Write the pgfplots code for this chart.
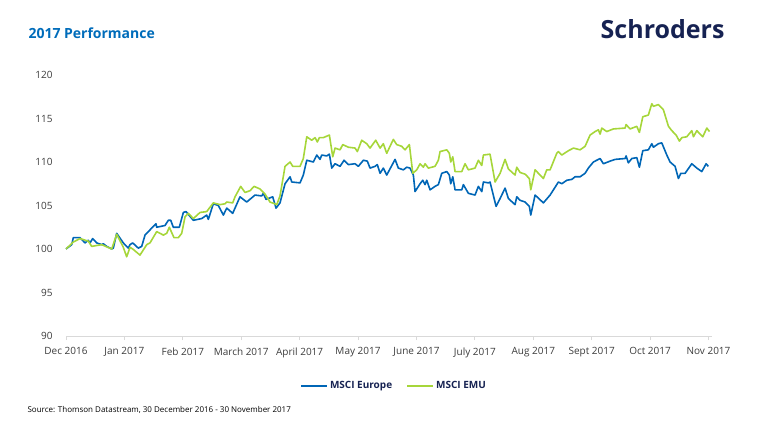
\documentclass[border=0pt]{standalone}
\usepackage{pgfplots}
\pgfplotsset{compat=1.18}
\usepackage{fontspec}
\setmainfont{Open Sans}
\definecolor{eurblue}{RGB}{0,102,182}
\definecolor{emugreen}{RGB}{166,214,58}
\definecolor{titleblue}{RGB}{0,108,186}
\definecolor{navy}{RGB}{22,34,82}
\definecolor{gridgray}{RGB}{217,217,217}
\definecolor{ticktext}{RGB}{60,60,60}

\begin{document}
\begin{tikzpicture}[x=1pt,y=1pt]
\path[use as bounding box] (0,0) rectangle (770,431);

\begin{axis}[
    at={(66pt,95pt)}, anchor=south west,
    scale only axis,
    width=646pt, height=261pt,
    xmin=0, xmax=11.06,
    ymin=90, ymax=120,
    ytick={90,95,...,120},
    xtick={0,...,11},
    xticklabels={Dec 2016,Jan 2017,Feb 2017,March 2017,April 2017,May 2017,June 2017,July 2017,Aug 2017,Sept 2017,Oct 2017,Nov 2017},
    axis lines*=left,
    axis y line=none,
    x axis line style={gridgray, line width=1pt, -},
    ymajorgrids,
    grid style={gridgray, line width=1pt},
    major x tick style={gridgray, line width=1pt},
    tick align=outside,
    major tick length=4pt,
    ytick style={draw=none},
    tick label style={font=\fontsize{10}{12}\selectfont, text=ticktext},
    /pgf/number format/assume math mode=true,
    xticklabel style={yshift=-4pt},
    clip=false,
    legend style={at={(axis description cs:0.5077,-0.1916)}, anchor=center,
      draw=none, fill=none, legend columns=2,
      font=\fontsize{10}{12}\selectfont\bfseries, text=navy,
      /tikz/every even column/.append style={column sep=12pt}},
    legend image code/.code={\draw[#1, line width=2pt] (0pt,0pt) -- (26pt,0pt);},
]
\pgfplotsinvokeforeach{90,95,...,120}{
  \node[anchor=east, font=\fontsize{10}{12}\selectfont, text=ticktext] at (axis cs:0,#1) [xshift=-10pt] {#1};
}
\addplot[eurblue, line width=1.6pt, line join=round] coordinates {
(0,100.0)(0.098,100.5)(0.125,101.3)(0.240,101.3)(0.325,100.7)(0.382,101.0)(0.411,100.7)(0.457,101.2)(0.526,100.7)(0.611,100.5)(0.639,100.6)(0.697,100.3)(0.783,100.0)(0.810,100.1)(0.868,101.8)(0.981,100.7)(1.067,100.1)(1.096,100.5)(1.142,100.7)(1.238,100.1)(1.296,100.3)(1.353,101.6)(1.467,102.4)(1.524,102.8)(1.541,102.9)(1.553,102.5)(1.695,102.7)(1.752,103.3)(1.793,103.3)(1.837,102.5)(1.940,102.5)(2.009,104.2)(2.055,104.3)(2.180,103.3)(2.324,103.5)(2.409,103.9)(2.437,103.4)(2.522,105.2)(2.608,105.0)(2.694,103.9)(2.752,104.7)(2.854,104.1)(2.979,106.0)(3.094,105.4)(3.236,106.2)(3.351,106.1)(3.378,106.4)(3.425,105.7)(3.539,106.0)(3.596,104.7)(3.664,105.3)(3.750,107.5)(3.836,108.3)(3.865,107.7)(4.007,107.6)(4.063,108.5)(4.122,110.2)(4.235,110.0)(4.293,110.8)(4.349,110.3)(4.378,110.8)(4.464,110.7)(4.509,110.9)(4.550,109.3)(4.606,109.8)(4.692,109.5)(4.760,110.2)(4.834,109.7)(4.949,109.8)(5.005,109.5)(5.091,110.2)(5.159,110.1)(5.205,109.3)(5.291,109.5)(5.330,109.7)(5.377,108.7)(5.433,109.3)(5.491,108.5)(5.634,110.3)(5.690,109.3)(5.776,109.1)(5.834,109.4)(5.890,109.3)(5.947,108.5)(5.976,106.6)(6.062,107.5)(6.108,107.9)(6.147,107.4)(6.176,107.9)(6.233,106.8)(6.318,107.2)(6.375,107.4)(6.433,108.7)(6.519,108.9)(6.563,108.5)(6.587,107.5)(6.622,108.3)(6.661,106.8)(6.776,106.8)(6.803,107.4)(6.889,106.4)(7.003,106.2)(7.060,107.2)(7.118,106.6)(7.146,107.7)(7.231,107.6)(7.260,107.7)(7.363,104.9)(7.432,105.8)(7.517,107.0)(7.574,105.8)(7.688,105.1)(7.717,106.0)(7.774,105.6)(7.860,105.4)(7.933,104.9)(7.957,103.9)(8.031,106.2)(8.173,105.3)(8.288,106.2)(8.402,107.4)(8.430,107.7)(8.488,107.5)(8.574,107.9)(8.659,108.0)(8.716,108.3)(8.801,108.3)(8.887,108.7)(8.943,109.3)(9.029,110.0)(9.115,110.3)(9.144,110.4)(9.200,109.8)(9.315,110.1)(9.401,110.3)(9.572,110.4)(9.589,110.7)(9.628,109.9)(9.687,110.4)(9.772,110.5)(9.817,109.4)(9.875,111.3)(9.971,111.4)(10.029,112.1)(10.057,111.7)(10.142,112.1)(10.200,112.2)(10.286,110.8)(10.342,110.0)(10.428,109.5)(10.485,108.1)(10.526,108.7)(10.599,108.7)(10.714,109.8)(10.800,109.3)(10.885,108.9)(10.959,109.8)(10.998,109.5)
};
\addplot[emugreen, line width=1.6pt, line join=round] coordinates {
(0,100.0)(0.125,100.8)(0.240,101.2)(0.382,100.9)(0.440,100.3)(0.611,100.5)(0.783,100.0)(0.868,101.7)(0.981,100.2)(1.039,99.1)(1.096,100.2)(1.142,100.0)(1.267,99.3)(1.382,100.5)(1.438,100.7)(1.553,102.0)(1.667,101.6)(1.724,101.8)(1.769,102.5)(1.849,101.3)(1.923,101.3)(1.981,101.8)(2.038,103.7)(2.095,104.1)(2.180,103.5)(2.295,104.2)(2.409,104.3)(2.522,105.3)(2.637,105.1)(2.723,105.2)(2.752,105.4)(2.854,105.3)(2.894,106.0)(2.991,107.2)(3.065,106.5)(3.151,106.7)(3.219,107.2)(3.322,106.9)(3.408,106.3)(3.493,105.4)(3.608,105.1)(3.664,106.1)(3.750,109.5)(3.836,110.0)(3.882,109.5)(4.007,109.5)(4.063,110.4)(4.122,112.9)(4.207,112.5)(4.264,112.8)(4.303,112.3)(4.338,112.8)(4.406,112.8)(4.509,113.1)(4.567,110.6)(4.606,111.6)(4.692,111.4)(4.738,112.0)(4.834,111.7)(4.949,111.6)(4.988,111.2)(5.063,112.5)(5.149,112.1)(5.205,111.6)(5.303,112.5)(5.377,111.6)(5.433,112.1)(5.491,111.0)(5.604,112.6)(5.662,112.0)(5.748,111.8)(5.805,111.4)(5.879,112.0)(5.937,108.7)(6.005,109.1)(6.062,109.8)(6.118,109.4)(6.147,109.8)(6.204,109.3)(6.318,109.5)(6.375,110.2)(6.404,111.2)(6.519,111.4)(6.563,111.0)(6.587,110.0)(6.622,110.6)(6.661,108.9)(6.776,108.9)(6.832,109.8)(6.889,109.1)(7.003,109.3)(7.060,110.2)(7.118,109.6)(7.146,110.8)(7.260,110.9)(7.346,107.7)(7.432,108.7)(7.517,110.3)(7.574,109.2)(7.688,108.5)(7.717,109.4)(7.774,108.8)(7.860,108.6)(7.933,108.1)(7.957,106.8)(8.031,109.1)(8.173,108.1)(8.231,109.1)(8.288,109.1)(8.402,111.0)(8.430,111.2)(8.488,110.8)(8.602,111.3)(8.688,111.6)(8.801,111.4)(8.887,111.8)(8.973,113.1)(9.058,113.5)(9.115,113.7)(9.144,113.2)(9.173,113.9)(9.258,113.5)(9.372,113.8)(9.572,113.9)(9.589,114.3)(9.658,113.8)(9.772,114.1)(9.817,113.4)(9.875,115.2)(9.971,115.4)(10.029,116.7)(10.057,116.4)(10.142,116.6)(10.228,116.0)(10.314,114.1)(10.372,113.6)(10.445,113.1)(10.502,112.4)(10.543,112.8)(10.628,112.9)(10.714,113.6)(10.742,112.9)(10.800,113.6)(10.902,112.9)(10.971,113.9)(11.017,113.5)
};
\legend{MSCI Europe,MSCI EMU}
\end{axis}

\node[anchor=west, font=\fontsize{14}{16}\selectfont\bfseries, text=titleblue] at (25,398) {2017 Performance};
\node[anchor=east, font=\fontsize{25}{28}\selectfont\bfseries, text=navy] at (728,402) {Schroders};
\node[anchor=west, font=\fontsize{8}{10}\selectfont, text=black] at (24,21) {Source: Thomson Datastream, 30 December 2016 - 30 November 2017};
\end{tikzpicture}
\end{document}
